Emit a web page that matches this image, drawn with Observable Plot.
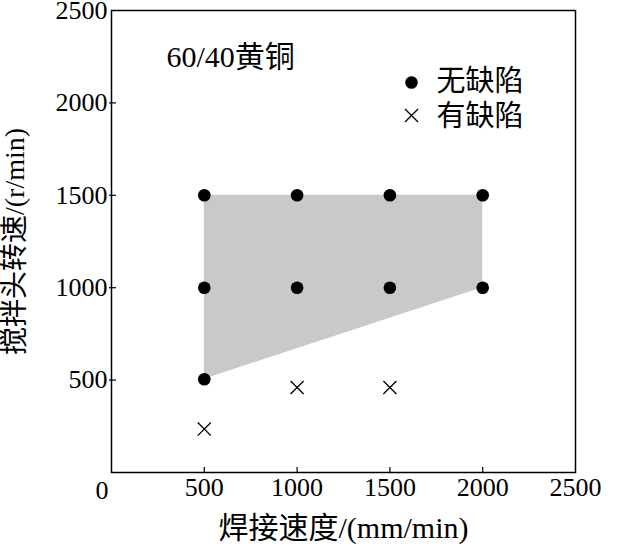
<!DOCTYPE html>
<html>
<head>
<meta charset="utf-8">
<script src="https://cdn.jsdelivr.net/npm/d3@7"></script>
<script src="https://cdn.jsdelivr.net/npm/@observablehq/plot@0.6"></script>
<style>
  html, body { margin: 0; padding: 0; background: #fff; }
</style>
</head>
<body>
<div id="chart"></div>
<script>
// ---- data ----
const goodX = [500, 1000, 1500, 2000, 500, 1000, 1500, 2000, 500];
const goodY = [1500, 1500, 1500, 1500, 1000, 1000, 1000, 1000, 505];
const badX = [500, 1000, 1500];
const badY = [235, 460, 460];
const regionX = [500, 2000];
const regionLow = [505, 1000];
const regionHigh = [1500, 1500];
const xTicks = [500, 1000, 1500, 2000, 2500];
const yTicks = [500, 1000, 1500, 2000, 2500];
const innerTicks = [500, 1000, 1500, 2000];
const legendLabels = ["无缺陷", "有缺陷"];
const titleText = "60/40黄铜";
const xLabel = "焊接速度/(mm/min)";
const yLabel = "搅拌头转速/(r/min)";

// ---- layout ----
const W = 621, H = 548;
const mL = 111, mR = 46, mT = 10, mB = 76;
const frameW = W - mL - mR, frameH = H - mT - mB;
const font = "'Liberation Serif', 'Noto Sans CJK SC', serif";

const plot = Plot.plot({
  width: W,
  height: H,
  marginLeft: mL,
  marginRight: mR,
  marginTop: mT,
  marginBottom: mB,
  style: { fontFamily: font, fontSize: "26px", color: "#000", background: "#fff" },
  x: { domain: [0, 2500] },
  y: { domain: [0, 2500] },
  marks: [
    Plot.areaY(regionX, { x: d => d, y1: (d, i) => regionLow[i], y2: (d, i) => regionHigh[i], fill: "#c9c9c9" }),
    Plot.frame({ stroke: "#000", strokeWidth: 1.5 }),
    // inward ticks
    Plot.tickX(innerTicks, { x: d => d, insetTop: frameH - 5, stroke: "#000", strokeWidth: 1.2 }),
    Plot.tickY(innerTicks, { y: d => d, insetRight: frameW - 5, insetLeft: -2, stroke: "#000", strokeWidth: 1.2 }),
    Plot.axisX(xTicks, { tickSize: 0, tickPadding: 5, fontSize: 26, tickFormat: d3.format("d"), label: null }),
    Plot.axisY(yTicks, { tickSize: 0, tickPadding: 4, fontSize: 26, tickFormat: d3.format("d"), label: null }),
    Plot.text(["0"], { text: d => d, frameAnchor: "bottom-left", dx: -16, dy: 18, fontSize: 26, lineAnchor: "middle" }),
    // data points
    Plot.dot(goodX, { x: d => d, y: (d, i) => goodY[i], r: 6.3, fill: "#000", stroke: "none" }),
    Plot.dot(badX, { x: d => d, y: (d, i) => badY[i], symbol: "times", r: 6, stroke: "#000", strokeWidth: 1.3 }),
    // annotation
    Plot.text([titleText], { text: d => d, frameAnchor: "top-left", dx: 55, dy: 47, textAnchor: "start", lineAnchor: "middle", fontSize: 30 }),
    // legend
    Plot.dot([legendLabels[0]], { frameAnchor: "top-right", dx: -164, dy: 72, r: 6.3, fill: "#000", stroke: "none" }),
    Plot.dot([legendLabels[1]], { frameAnchor: "top-right", dx: -164, dy: 105, symbol: "times", r: 6, stroke: "#000", strokeWidth: 1.3 }),
    Plot.text([legendLabels[0]], { text: d => d, frameAnchor: "top-right", dx: -139, dy: 71, textAnchor: "start", lineAnchor: "middle", fontSize: 29 }),
    Plot.text([legendLabels[1]], { text: d => d, frameAnchor: "top-right", dx: -139, dy: 106, textAnchor: "start", lineAnchor: "middle", fontSize: 29 }),
    // axis labels
    Plot.text([xLabel], { text: d => d, frameAnchor: "bottom", dy: 56, textAnchor: "middle", lineAnchor: "middle", fontSize: 30 }),
    Plot.text([yLabel], { text: d => d, frameAnchor: "left", dx: -96, rotate: -90, textAnchor: "middle", lineAnchor: "middle", fontSize: 28 })
  ]
});
document.getElementById("chart").appendChild(plot);
</script>
</body>
</html>
